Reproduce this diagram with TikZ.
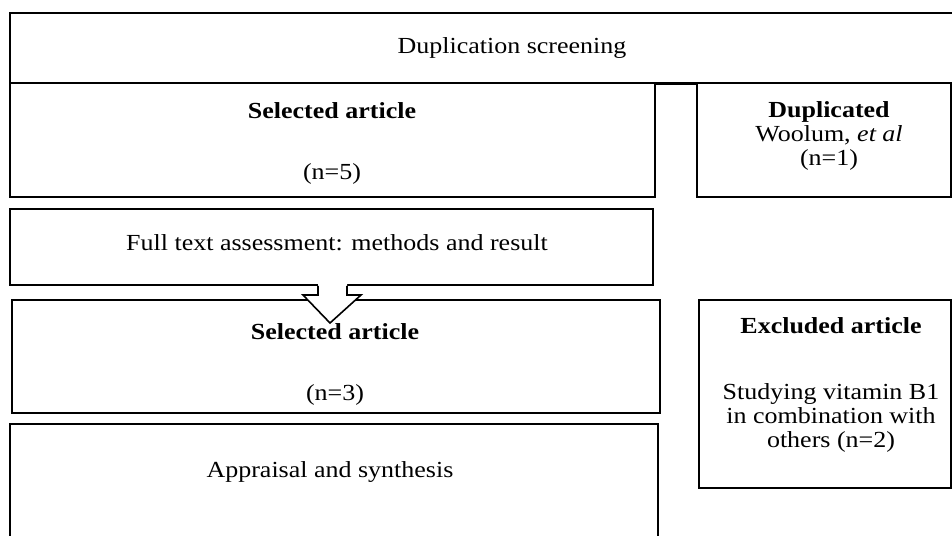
\documentclass[tikz,border=0pt]{standalone}
\usepackage{fontspec}
\setmainfont[FakeStretch=1.13]{Liberation Serif}
\begin{document}
\begin{tikzpicture}[x=1pt,y=-1pt,
  every node/.style={font=\fontsize{23}{24}\selectfont},
  box/.style={draw,line width=1.6pt,inner sep=0pt},
  lbl/.style={align=center,anchor=base,inner sep=0pt}]
\useasboundingbox (0,0) rectangle (952,535);
% boxes
\node[box,minimum width=1004pt,minimum height=70pt] (screen) at (512,48) {};
\node[box,minimum width=645pt,minimum height=114pt] (sel1) at (332.5,140) {};
\node[box,minimum width=254pt,minimum height=114pt] (dup) at (824,140) {};
\node[box,minimum width=643pt,minimum height=76pt] (full) at (331.5,247) {};
\node[box,minimum width=648pt,minimum height=113pt] (sel2) at (336,356.5) {};
\node[box,minimum width=252pt,minimum height=188pt] (excl) at (825,394) {};
\node[box,minimum width=648pt,minimum height=136pt] (appr) at (334,492) {};
\draw[line width=1.6pt] ([yshift=-2pt]sel1.north east) -- ([yshift=-2pt]dup.north west);
% block arrow from full text box down
\coordinate (tip) at (330,323);
\coordinate (shl) at (318,0 |- full.south);
\coordinate (shr) at (347,0 |- full.south);
\fill[white] ([yshift=2pt]shl) -- (318,295) -- (303,295) -- (tip) -- (361,295) -- (347,295) -- ([yshift=2pt]shr) -- cycle;
\draw[line width=1.6pt,line join=miter] (shl) -- (318,295) -- (303,295) -- (tip) -- (361,295) -- (347,295) -- (shr);
% texts (base = last line)
\node[lbl] (tscreen) at (512,54) {Duplication screening};
\node[lbl] (tsel1) at (332,179) {\textbf{Selected article}\\[37pt](n=5)};
\node[lbl] (tdup) at (829,165) {\textbf{Duplicated}\\Woolum, \textit{et al}\\(n=1)};
\node[lbl] (tfull) at (337,250) {Full text assessment: methods and result};
\node[lbl] (tsel2) at (335,400) {\textbf{Selected article}\\[37pt](n=3)};
\node[lbl] (texcl) at (831,447) {\textbf{Excluded article}\\[42pt]Studying vitamin B1\\in combination with\\others (n=2)};
\node[lbl] (tappr) at (330,477) {Appraisal and synthesis};
\end{tikzpicture}
\end{document}
